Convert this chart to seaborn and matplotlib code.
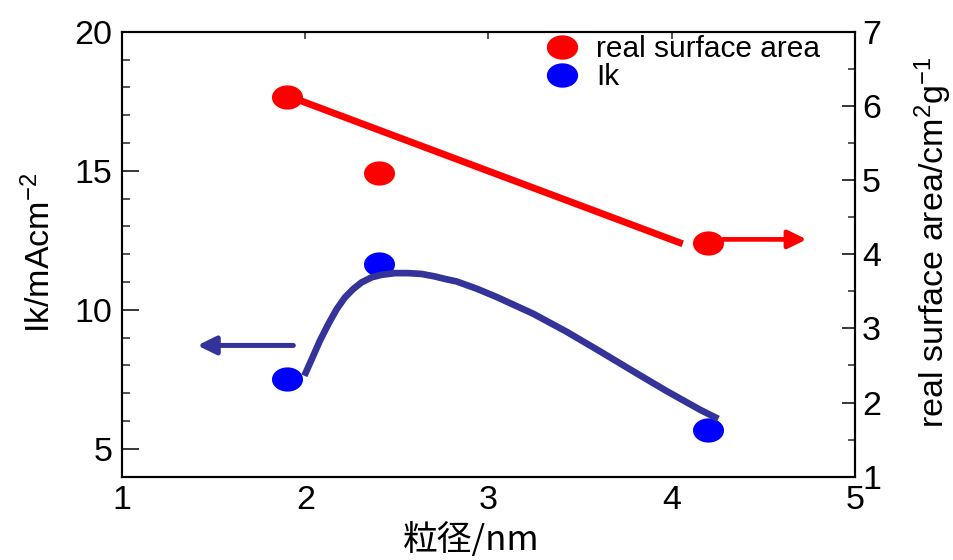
import numpy as np
import pandas as pd
import seaborn as sns
import matplotlib
matplotlib.use("Agg")
import matplotlib.pyplot as plt
from matplotlib.path import Path
from matplotlib.lines import Line2D
from matplotlib.ticker import MultipleLocator, FixedLocator

# Measured values
diameter = [1.9, 2.4, 4.2]                 # particle size / nm
surface_area = [6.12, 5.09, 4.15]          # real surface area / cm2 g-1
ik = [7.53, 11.66, 5.69]                   # Ik / mA cm-2

# Trend line for the real surface area
area_trend_x = [1.92, 4.06]
area_trend_y = [6.12, 4.14]

# Guide curve for Ik
ik_curve_x = [1.995, 2.035, 2.080, 2.126, 2.172, 2.217, 2.262, 2.308, 2.363,
              2.417, 2.490, 2.562, 2.635, 2.708, 2.763, 2.826, 2.936, 3.045,
              3.244, 3.427, 3.608, 3.790, 3.972, 4.154, 4.254]
ik_curve_y = [7.63, 8.22, 8.89, 9.49, 10.03, 10.45, 10.75, 10.99, 11.17,
              11.26, 11.32, 11.32, 11.29, 11.20, 11.11, 11.02, 10.76, 10.46,
              9.86, 9.21, 8.51, 7.79, 7.08, 6.41, 6.08]

x_ticks = [1, 2, 3, 4, 5]
left_ticks = [5, 10, 15, 20]
right_ticks = [1, 2, 3, 4, 5, 6, 7]

points = pd.DataFrame({"diameter": diameter, "area": surface_area, "ik": ik})
area_trend = pd.DataFrame({"x": area_trend_x, "y": area_trend_y})
ik_curve = pd.DataFrame({"x": ik_curve_x, "y": ik_curve_y})

sns.set_style("white")
plt.rcParams["font.family"] = ["Liberation Sans", "Noto Sans CJK JP", "DejaVu Sans"]
plt.rcParams["text.color"] = "black"
plt.rcParams["mathtext.fontset"] = "custom"
plt.rcParams["mathtext.rm"] = "Liberation Sans"
plt.rcParams["mathtext.it"] = "Liberation Sans:italic"
plt.rcParams["mathtext.default"] = "regular"

RED = "#FF0000"
BLUE = "#0000FF"
NAVY = "#333399"

# Wide elliptical marker
t = np.linspace(0, 2 * np.pi, 60)
ellipse = Path(np.column_stack([0.5 * np.cos(t), 0.39 * np.sin(t)]), closed=True)

fig = plt.figure(figsize=(9.54, 5.6), dpi=100)
ax = fig.add_axes([0.1279, 0.1487, 0.7683, 0.7947])
ax2 = ax.twinx()

# Ik (left axis)
sns.scatterplot(data=points, x="diameter", y="ik", ax=ax, color=BLUE,
                marker=ellipse, s=500, linewidth=0, zorder=3, legend=False)
sns.lineplot(data=ik_curve, x="x", y="y", ax=ax, color=NAVY, lw=4.8,
             sort=False, estimator=None, solid_capstyle="butt",
             solid_joinstyle="round", zorder=4)
ax.annotate("", xy=(1.411, 8.72), xytext=(1.935, 8.72),
            arrowprops=dict(arrowstyle="-|>,head_length=0.55,head_width=0.27",
                            mutation_scale=20, lw=3.6, color=NAVY,
                            shrinkA=0, shrinkB=0))

# Real surface area (right axis)
sns.scatterplot(data=points, x="diameter", y="area", ax=ax2, color=RED,
                marker=ellipse, s=500, linewidth=0, zorder=3, legend=False)
sns.lineplot(data=area_trend, x="x", y="y", ax=ax2, color=RED, lw=5,
             sort=False, estimator=None, solid_capstyle="butt", zorder=4)
ax2.annotate("", xy=(4.736, 4.20), xytext=(4.28, 4.20),
             arrowprops=dict(arrowstyle="-|>,head_length=0.55,head_width=0.27",
                             mutation_scale=20, lw=3.4, color=RED,
                             shrinkA=0, shrinkB=0))

# Axes limits and ticks
ax.set_xlim(1, 5)
ax.set_ylim(4, 20)
ax2.set_ylim(1, 7)
ax.set_xlabel("")
ax.set_ylabel("")
ax2.set_xlabel("")
ax2.set_ylabel("")

ax.xaxis.set_major_locator(FixedLocator(x_ticks))
ax.xaxis.set_minor_locator(MultipleLocator(0.5))
ax.yaxis.set_major_locator(FixedLocator(left_ticks))
ax.yaxis.set_minor_locator(MultipleLocator(1))
ax2.yaxis.set_major_locator(FixedLocator(right_ticks))
ax2.yaxis.set_minor_locator(MultipleLocator(0.5))

tick_font = 24.5
ax.tick_params(axis="x", which="major", direction="in", length=10, width=1.1,
               pad=6, labelsize=tick_font, colors="black")
ax.tick_params(axis="x", which="minor", direction="in", length=5, width=1.1)
ax.tick_params(axis="y", which="major", direction="in", length=12, width=1.1,
               pad=7, labelsize=tick_font, colors="black")
ax.tick_params(axis="y", which="minor", direction="in", length=6, width=1.1)
ax2.tick_params(axis="y", which="major", direction="in", length=9.5, width=1.1,
                pad=5, labelsize=tick_font, colors="black")
ax2.tick_params(axis="y", which="minor", direction="in", length=5, width=1.1)

top = ax.secondary_xaxis("top")
top.xaxis.set_major_locator(FixedLocator(x_ticks))
top.tick_params(axis="x", direction="in", length=5, width=1.1, labeltop=False)

for a in (ax, ax2):
    for sp in a.spines.values():
        sp.set_linewidth(1.5)
        sp.set_color("black")
        sp.set_visible(True)
for sp in top.spines.values():
    sp.set_visible(False)

# Axis titles
fig.text(40 / 954, 1 - 253 / 560, "Ik/mAcm$^{-2}$", rotation=90,
         ha="center", va="center", fontsize=24.5)
fig.text(913 / 954, 1 - 242 / 560, "real surface area/cm$^{2}$g$^{-1}$",
         rotation=90, ha="left", va="center", fontsize=24.5)
fig.text(471 / 954, 1 - 541 / 560, "粒径/nm", ha="center", va="center",
         fontsize=25, family=["Noto Sans CJK JP", "DejaVu Sans"])

# Legend
handles = [
    Line2D([], [], linestyle="", marker=ellipse, markersize=22.5,
           markerfacecolor=RED, markeredgewidth=0),
    Line2D([], [], linestyle="", marker=ellipse, markersize=22.5,
           markerfacecolor=BLUE, markeredgewidth=0),
]
ax2.legend(handles, ["real surface area", "Ik"], loc="upper left",
           bbox_to_anchor=(546 / 954, 1 - 35 / 560),
           bbox_transform=fig.transFigure, frameon=False, fontsize=21.5,
           handlelength=1.05, handletextpad=0.62, labelspacing=0.0,
           borderpad=0, borderaxespad=0)

fig.savefig("out.png", dpi=100)
